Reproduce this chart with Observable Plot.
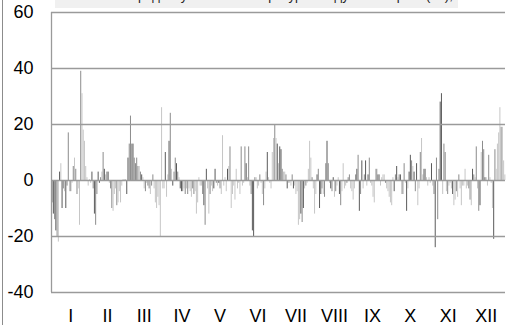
<!DOCTYPE html>
<html>
<head>
<meta charset="utf-8">
<script src="https://cdn.jsdelivr.net/npm/d3@7"></script>
<script src="https://cdn.jsdelivr.net/npm/@observablehq/plot@0.6"></script>
<style>
  html, body { margin: 0; padding: 0; background: #fff; }
  #wrap { position: relative; width: 509px; height: 325px; overflow: hidden; font-family: "Liberation Sans", Arial, sans-serif; }
  #border { position: absolute; left: 2px; top: 0; width: 1px; height: 325px; background: #8c8c8c; }
  #title { position: absolute; left: 55px; top: 0; width: 403px; height: 7.5px; background: #f0f0f0; overflow: hidden; }
  #title span { position: absolute; left: 0; right: 0; top: -11px; line-height: 13px; font-size: 13px; text-align: center; color: #222; white-space: nowrap; }
  svg { display: block; }
</style>
</head>
<body>
<div id="wrap">
  <div id="chart"></div>
  <div id="title"><span>Отклонение среднесуточной температуры воздуха от нормы (°C), 2010 г.</span></div>
  <div id="border"></div>
</div>
<script>
// Month labels
const months = ["I","II","III","IV","V","VI","VII","VIII","IX","X","XI","XII"];
const yTicks = [-40, -20, 0, 20, 40, 60];

// Daily anomaly values per month (°C)
const jan = [-8,-12,-14,-18,-20,-22,3,6,-10,-3,-4,-10,-2,17,-4,-4,-1,5,8,4,-5,-3,-16,39,31,18,14,5,1,-2,0.3];
const feb = [-1,3,-3,-12,-16,-5,3,-1,1,3,10,4,2,3,3,-1,-3,-10,-11,-5,-3,-9,-8,-4,-8,-2,0.3,0.3];
const mar = [0.3,-5,8,13,23,13,13,8,6,8,5,5,3,2,1,-3,-4,-1,-2,-3,-5,-2,2,-3,-8,-10,-6,-9,-20,26,-3];
const apr = [-3,10,-6,2,14,24,4,-2,3,8,6,3,1,-3,-4,-4,-3,-5,-3,-5,-3,-4,-6,-3,-5,-4,-12,-8,1,-2];
const may = [-2,-5,-9,-16,4,-3,-12,-5,-2,-4,-3,4,-1,-2,-1,-3,-5,16,-2,1,-4,4,5,12,-10,-5,-2,-7,4,-3,-1];
const jun = [-5,12,-2,-1,12,6,1,12,-2,-5,-18,-20,1,1,-3,-2,2,-1,-5,-9,-3,3,10,1,-1,-3,10,15,20,15];
const jul = [13,6,12,11,4,3,3,2,-3,-1,-1,-2,2,-3,-2,-5,-4,-16,-14,-12,-15,-10,-3,-2,-1,4,14,8,1,-3,-12];
const aug = [-5,2,4,-10,-5,-3,-5,-6,6,14,6,-1,-3,-4,1,-6,-4,-2,1,-5,-9,-4,6,-3,-2,-1,1,2,-3,-4,-7];
const sep = [-3,2,4,9,-11,-5,7,-3,2,7,-2,2,8,-1,-2,-6,-8,4,4,2,2,-2,1,2,2,-1,-3,-4,-6,-8];
const oct = [-9,1,-4,2,5,1,2,2,-5,-5,6,-1,-11,-3,3,9,7,5,3,-4,6,-9,-3,10,15,2,4,4,1,-2,1];
const nov = [-1,6,-2,-5,-24,8,-14,4,28,31,-5,13,10,-4,-5,-2,-1,-3,-5,-9,-7,-4,-6,2,-3,-9,-2,-2,4,-3];
const dec = [-2,-3,-7,-9,4,2,1,12,-3,-11,-9,10,14,11,1,1,-2,9,1,-1,-10,-21,11,4,13,17,26,19,19,7,2];

// Bar shade per day (d = dark, m = medium, l = light)
const janShade = "mdmdmldldmldmmlmlmlmmllmlllllll";
const febShade = "ldmdmmddmlmdlmdlmmlllmllllll";
const marShade = "lddmmmdmmmmlmdllmlmmlmmlllllllll";
const aprShade = "ldlldmldmmdmlddmlmlmlllmmlllll";
const mayShade = "lmdmdllmllddmldmllllldlmlllllll";
const junShade = "lmllmdlmlmddmlllmllmlldlllllmll";
const julShade = "dlddmllmdlllmdllllldmdlmllllmlll";
const augShade = "ldmddmlmmdmldmdlmlldmllllmmmlll";
const sepShade = "lmdmdmdlmdldmlllllmdmllllmlllll";
const octShade = "lldmdlmdlmmldlddmldmdllmlldmlll";
const novShade = "ldlmdmmmddlmmlmllldllmlmllllll";
const decShade = "lmmldmlmlmdlmmdllmllldmllllmlll";

const monthValues = [jan,feb,mar,apr,may,jun,jul,aug,sep,oct,nov,dec];
const monthShades = [janShade,febShade,marShade,aprShade,mayShade,junShade,julShade,augShade,sepShade,octShade,novShade,decShade];
const shadeColor = {d: "#5a5a5a", m: "#8c8c8c", l: "#c6c6c6"};

const rows = [];
const mids = [];
let day = 0;
monthValues.forEach((vals, mi) => {
  mids.push(day + vals.length / 2);
  vals.forEach((v, k) => {
    rows.push({day: day + 0.5, value: v, shade: monthShades[mi][k] || "l"});
    day++;
  });
});
const total = day;
const midLabel = new Map(mids.map((m, i) => [m, months[i]]));

const chart = Plot.plot({
  width: 509,
  height: 325,
  marginLeft: 51,
  marginRight: 4,
  marginTop: 12,
  marginBottom: 33,
  style: {fontFamily: "'Liberation Sans', Arial, sans-serif", fontSize: "18px", color: "#000", background: "transparent"},
  x: {type: "linear", domain: [0, total], label: null},
  y: {domain: [-40, 60], label: null},
  marks: [
    Plot.ruleX(rows, {x: "day", y1: 0, y2: "value", stroke: d => shadeColor[d.shade], strokeWidth: 1}),
    Plot.ruleY(yTicks, {stroke: "#9a9a9a", strokeWidth: 1.3}),
    Plot.ruleX([0], {stroke: "#9a9a9a", strokeWidth: 1.3}),
    Plot.axisY(yTicks, {label: null, tickSize: 0, tickPadding: 18, tickFormat: d => String(d), fontSize: 18, fill: "#000"}),
    Plot.axisX(mids, {label: null, tickSize: 0, tickPadding: 17, tickFormat: d => midLabel.get(d), fontSize: 18, fill: "#000"})
  ]
});
document.getElementById("chart").appendChild(chart);
</script>
</body>
</html>
